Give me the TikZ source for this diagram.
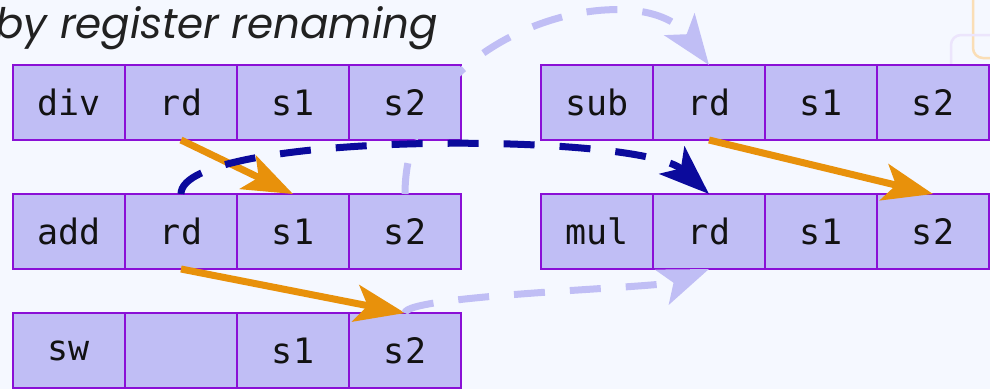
\documentclass[tikz,border=0pt]{standalone}
\usepackage{fontspec}
\usetikzlibrary{arrows.meta}
\newfontfamily\titlefont{Poppins}
\newfontfamily\cellfont{DejaVu Sans Mono}
\definecolor{pagebg}{RGB}{245,248,255}
\definecolor{cellfill}{RGB}{192,190,245}
\definecolor{cellline}{RGB}{138,16,214}
\definecolor{flowor}{RGB}{232,145,11}
\definecolor{flownavy}{RGB}{11,10,156}
\definecolor{decoor}{RGB}{250,222,182}
\definecolor{decolav}{RGB}{236,229,252}
\tikzset{
  cell/.style={draw=cellline, fill=cellfill, line width=2pt,
    minimum width=112pt, minimum height=75pt, inner sep=0pt, outer sep=0pt,
    font=\cellfont\fontsize{35}{42}\selectfont, text=black!93},
  bigtip/.style={-{Stealth[length=50pt, width=37pt, inset=12pt]}},
  rawdep/.style={bigtip, draw=flowor, line width=7pt},
  wardep/.style={bigtip, draw=flownavy, line width=7pt, dash pattern=on 31pt off 25pt},
  wawdep/.style={bigtip, draw=cellfill, line width=7pt, dash pattern=on 31pt off 25pt},
  deco/.style={line width=2.5pt, rounded corners=10pt}
}
\begin{document}
\begin{tikzpicture}[x=1pt, y=-1pt]
  % page and frame
  \fill[pagebg] (0,0) rectangle (990,389);
  \useasboundingbox (0,0) rectangle (990,389);
  \clip (0,0) rectangle (990,389);

  % faint background frames at the top right
  \draw[deco, draw=decoor] (973,-20) -- (973,58) -- (1010,58);
  \draw[deco, draw=decolav] (951,80) -- (951,35) -- (1010,35);

  % heading
  \node[anchor=base east, inner sep=0pt, text=black!87,
        font=\titlefont\itshape\fontsize{42}{48}\selectfont] (title) at (438,38) {by register renaming};

  % instruction rows (left)
  \node[cell] (div-op) at (69,102.5) {div};
  \node[cell] (div-rd) at (181,102.5) {rd};
  \node[cell] (div-s1) at (293,102.5) {s1};
  \node[cell] (div-s2) at (405,102.5) {s2};

  \node[cell] (add-op) at (69,231.5) {add};
  \node[cell] (add-rd) at (181,231.5) {rd};
  \node[cell] (add-s1) at (293,231.5) {s1};
  \node[cell] (add-s2) at (405,231.5) {s2};

  \node[cell] (sw-op) at (69,350.5) {sw};
  \node[cell] (sw-rd) at (181,350.5) {};
  \node[cell] (sw-s1) at (293,350.5) {s1};
  \node[cell] (sw-s2) at (405,350.5) {s2};

  % instruction rows (right)
  \node[cell] (sub-op) at (597,102.5) {sub};
  \node[cell] (sub-rd) at (709,102.5) {rd};
  \node[cell] (sub-s1) at (821,102.5) {s1};
  \node[cell] (sub-s2) at (933,102.5) {s2};

  \node[cell] (mul-op) at (597,231.5) {mul};
  \node[cell] (mul-rd) at (709,231.5) {rd};
  \node[cell] (mul-s1) at (821,231.5) {s1};
  \node[cell] (mul-s2) at (933,231.5) {s2};

  % true (read-after-write) dependences
  \draw[rawdep] (div-rd.south) -- (add-s1.north);
  \draw[rawdep] (add-rd.south) -- (sw-s2.north);
  \draw[rawdep] (sub-rd.south) -- (mul-s2.north);

  % name dependences removed by renaming
  \draw[wawdep] (add-s2.north) .. controls +(0,-165) and +(-69,-95) .. (sub-rd.north);
  \draw[wawdep] (sw-s2.north) .. controls +(0,-18) and +(-49,19) .. (mul-rd.south);
  \draw[wardep] (add-rd.north) .. controls +(0,-63) and +(-69,-63) .. (mul-rd.north);
\end{tikzpicture}
\end{document}
